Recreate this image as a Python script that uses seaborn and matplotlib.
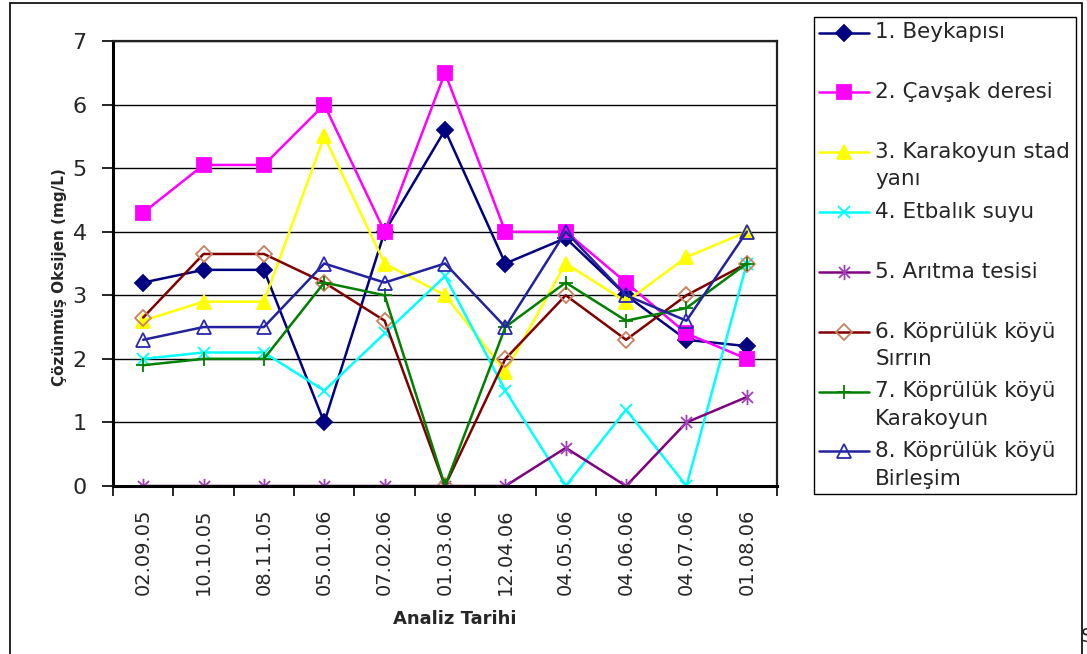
import numpy as np
import pandas as pd
import matplotlib
matplotlib.use("Agg")
import matplotlib.pyplot as plt
from matplotlib.path import Path
from matplotlib.patches import Rectangle
from matplotlib.legend_handler import HandlerLine2D
from matplotlib.ticker import FixedLocator, NullFormatter
import seaborn as sns

# Sampling dates
dates = ["02.09.05", "10.10.05", "08.11.05", "05.01.06", "07.02.06", "01.03.06",
         "12.04.06", "04.05.06", "04.06.06", "04.07.06", "01.08.06"]

# Dissolved oxygen (mg/L) at each station
beykapisi = [3.2, 3.4, 3.4, 1.0, 4.0, 5.6, 3.5, 3.9, 3.0, 2.3, 2.2]
cavsak = [4.3, 5.05, 5.05, 6.0, 4.0, 6.5, 4.0, 4.0, 3.2, 2.4, 2.0]
karakoyun_stad = [2.6, 2.9, 2.9, 5.5, 3.5, 3.0, 1.8, 3.5, 2.9, 3.6, 4.0]
etbalik = [2.0, 2.1, 2.1, 1.5, 2.4, 3.3, 1.5, 0.0, 1.2, 0.0, 3.5]
aritma = [0.0, 0.0, 0.0, 0.0, 0.0, 0.0, 0.0, 0.6, 0.0, 1.0, 1.4]
kopruluk_sirrin = [2.65, 3.65, 3.65, 3.2, 2.6, 0.0, 2.0, 3.0, 2.3, 3.0, 3.5]
kopruluk_karakoyun = [1.9, 2.0, 2.0, 3.2, 3.0, 0.0, 2.5, 3.2, 2.6, 2.8, 3.5]
kopruluk_birlesim = [2.3, 2.5, 2.5, 3.5, 3.2, 3.5, 2.5, 4.0, 3.0, 2.6, 4.0]

station_names = ["1. Beykapısı", "2. Çavşak deresi", "3. Karakoyun stad\nyanı",
                 "4. Etbalık suyu", "5. Arıtma tesisi", "6. Köprülük köyü\nSırrın",
                 "7. Köprülük köyü\nKarakoyun", "8. Köprülük köyü\nBirleşim"]
station_values = [beykapisi, cavsak, karakoyun_stad, etbalik, aritma,
                  kopruluk_sirrin, kopruluk_karakoyun, kopruluk_birlesim]

# Excel-style asterisk: an "x" crossed by a vertical bar
asterisk = Path([(0, -1), (0, 1), (-0.72, -0.72), (0.72, 0.72), (-0.72, 0.72), (0.72, -0.72)],
                [Path.MOVETO, Path.LINETO, Path.MOVETO, Path.LINETO, Path.MOVETO, Path.LINETO])

# line colour, marker, marker size, marker edge, marker face
styles = [
    ("#000080", "D", 8.0, "#000080", "#000080"),
    ("#FF00FF", "s", 9.5, "#FF00FF", "#FF00FF"),
    ("#FFFF00", "^", 9.5, "#FFFF00", "#FFFF00"),
    ("#00FFFF", "x", 9.0, "#00FFFF", "none"),
    ("#800080", asterisk, 11.0, "#A040B8", "none"),
    ("#800000", "D", 8.0, "#CC8060", "none"),
    ("#008000", "+", 10.0, "#008000", "none"),
    ("#22229C", "^", 9.5, "#2828B0", "none"),
]

sns.set_style("white")
plt.rcParams["font.family"] = ["DejaVu Sans"]

fig = plt.figure(figsize=(10.87, 6.54), dpi=100)
ax = fig.add_axes([113 / 1087, 1 - 486 / 654, 664 / 1087, 445 / 654])

positions = np.arange(len(dates))
handles = []
for name, vals, (lc, mk, ms, mec, mfc) in zip(station_names, station_values, styles):
    df = pd.DataFrame({"pos": positions, "value": vals})
    sns.lineplot(data=df, x="pos", y="value", ax=ax, color=lc, lw=1.8,
                 marker=mk, markersize=ms, markeredgecolor=mec, markerfacecolor=mfc,
                 markeredgewidth=1.3, sort=False, legend=False)
    handles.append(ax.lines[-1])

# Axes, grid and ticks
ax.set_xlim(-0.5, len(dates) - 0.5)
ax.set_ylim(0, 7)
ax.set_yticks(range(0, 8))
ax.yaxis.grid(True, color="black", lw=1.0)
ax.xaxis.grid(False)
ax.set_axisbelow(True)
ax.tick_params(axis="y", which="major", left=True, length=8, width=1.2, pad=11,
               labelsize=16, color="black")

ax.xaxis.set_major_locator(FixedLocator(np.arange(-0.5, len(dates), 1.0)))
ax.xaxis.set_major_formatter(NullFormatter())
ax.xaxis.set_minor_locator(FixedLocator(positions))
ax.set_xticklabels(dates, minor=True, rotation=90)
ax.tick_params(axis="x", which="major", bottom=True, length=7, width=1.2, color="black")
ax.tick_params(axis="x", which="minor", bottom=True, length=0, pad=16, labelsize=14)

for side in ["left", "bottom"]:
    ax.spines[side].set_linewidth(2.2)
    ax.spines[side].set_color("black")
for side in ["top", "right"]:
    ax.spines[side].set_linewidth(1.6)
    ax.spines[side].set_color("#222222")

ax.set_xlabel("Analiz Tarihi", fontsize=13, fontweight="bold")
ax.set_ylabel("Çözünmüş Oksijen (mg/L)", fontsize=11, fontweight="bold")
ax.xaxis.set_label_coords(0.515, -0.279)
ax.yaxis.set_label_coords(-0.069, 0.47)


class FirstLineHandler(HandlerLine2D):
    """Places the legend key beside the first line of a two-line label."""

    def create_artists(self, legend, orig_handle, xdescent, ydescent, width, height,
                       fontsize, trans):
        artists = super().create_artists(legend, orig_handle, xdescent, ydescent,
                                         width, height, fontsize, trans)
        shift = 0.65 * fontsize
        for a in artists:
            a.set_ydata(np.asarray(a.get_ydata(), dtype=float) + shift)
        return artists


legend_labels = [n if "\n" in n else n + "\n " for n in station_names]
leg = fig.legend(handles, legend_labels, loc="upper left",
                 bbox_to_anchor=(814 / 1087, 1 - 17 / 654), borderaxespad=0,
                 fontsize=15.5, frameon=True, fancybox=False, framealpha=1,
                 edgecolor="black", handlelength=2.3, handletextpad=0.3,
                 borderpad=0.25, labelspacing=0.58,
                 handler_map={h: FirstLineHandler() for h in handles})
leg.get_frame().set_linewidth(1.0)
for t in leg.get_texts():
    t.set_linespacing(1.46)

# Outer frame of the chart area
fig.patches.append(Rectangle((10 / 1087, -0.02), (1082 - 10) / 1087, 1.02 - 3 / 654,
                             transform=fig.transFigure, fill=False, edgecolor="black",
                             lw=1.2, figure=fig))
fig.text(1081 / 1087, 1 - 636 / 654, "S", fontsize=14, va="center", ha="left")

fig.savefig("out.png", dpi=100)
